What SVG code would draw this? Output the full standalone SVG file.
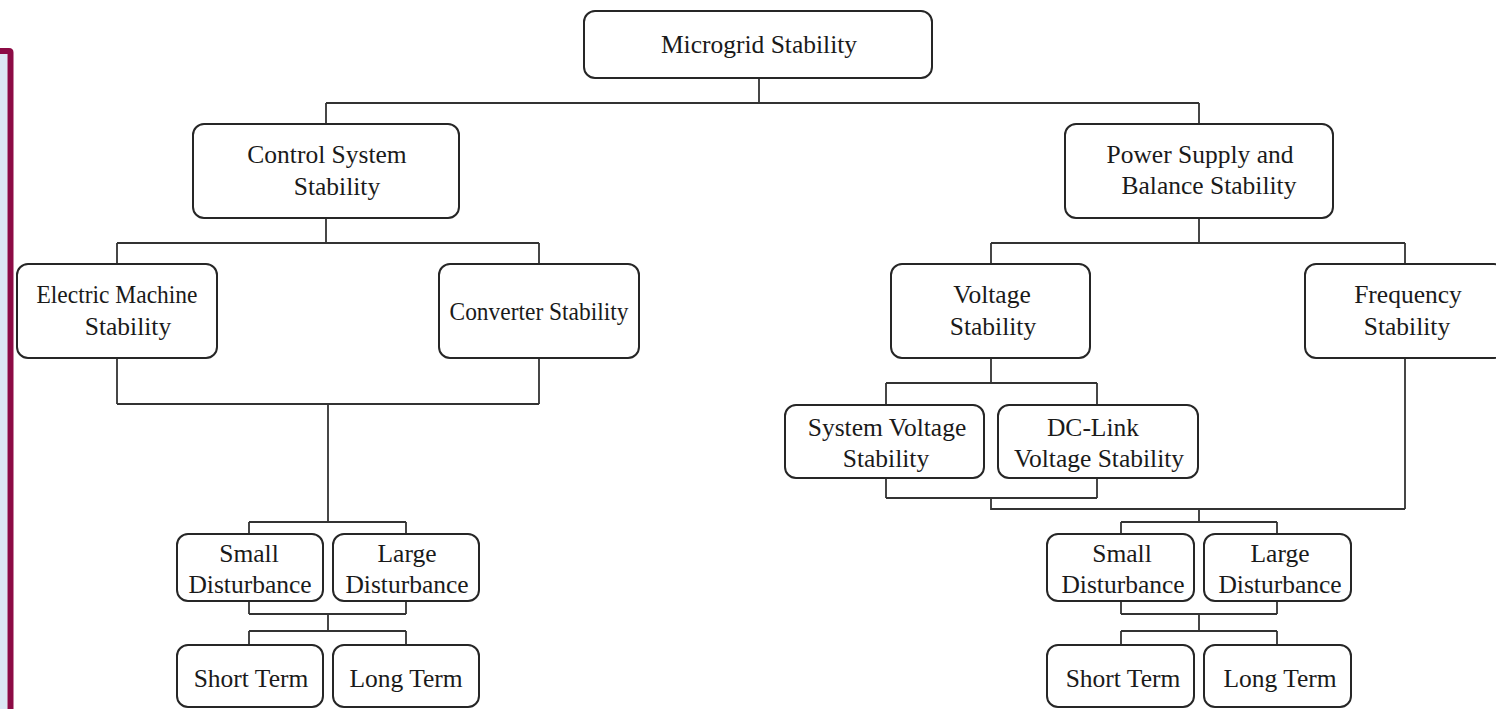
<svg xmlns="http://www.w3.org/2000/svg" width="1496" height="709" viewBox="0 0 1496 709">
<style>
.box{fill:#fff;stroke:#262626;stroke-width:2}
.t{font-family:"Liberation Serif","Times New Roman",serif;font-size:25.5px;fill:#1a1a1a;text-anchor:middle}
.c{fill:none;stroke:#333;stroke-width:1.8}
</style>
<rect x="0" y="0" width="1496" height="709" fill="#fff"/>
<g id="sidebar">
<rect x="0" y="54" width="7.5" height="655" fill="#dce7f4"/>
<path d="M0,48 H9 Q13.5,48 13.5,52.5 V709 H7.5 V54 H0 Z" fill="#8c0b45"/>
</g>
<g id="connectors">
<path class="c" d="M759,78 V103 M326,103 H1199 M326,103 V124 M1199,103 V124"/>
<path class="c" d="M326,218 V243 M117,243 H539 M117,243 V264 M539,243 V264"/>
<path class="c" d="M117,358 V404 M539,358 V404 M117,404 H539 M328,404 V522 M249,522 H406 M249,522 V534 M406,522 V534"/>
<path class="c" d="M249,601 V614 M406,601 V614 M249,614 H406 M328,614 V631 M249,631 H406 M249,631 V645 M406,631 V645"/>
<path class="c" d="M1199,218 V243 M991,243 H1405 M991,243 V264 M1405,243 V264"/>
<path class="c" d="M991,358 V383 M886,383 H1097 M886,383 V405 M1097,383 V405"/>
<path class="c" d="M886,478 V498 M1097,478 V498 M886,498 H1097 M991,498 V509 H1405 M1405,358 V509 M1199,509 V522 M1121,522 H1277 M1121,522 V534 M1277,522 V534"/>
<path class="c" d="M1121,601 V614 M1277,601 V614 M1121,614 H1277 M1199,614 V631 M1121,631 H1277 M1121,631 V645 M1277,631 V645"/>
</g>
<g id="microgrid"><rect class="box" x="584" y="11" width="348" height="67" rx="11"/><text class="t" x="759" y="53">Microgrid Stability</text></g>
<g id="control"><rect class="box" x="193" y="124" width="266" height="94" rx="11"/><text class="t" x="327" y="163">Control System</text><text class="t" x="337" y="195">Stability</text></g>
<g id="power"><rect class="box" x="1065" y="124" width="268" height="94" rx="11"/><text class="t" x="1200" y="163">Power Supply and</text><text class="t" x="1209" y="194">Balance Stability</text></g>
<g id="electric"><rect class="box" x="17" y="264" width="200" height="94" rx="11"/><text class="t" x="117" y="303" textLength="161" lengthAdjust="spacingAndGlyphs">Electric Machine</text><text class="t" x="128" y="335">Stability</text></g>
<g id="converter"><rect class="box" x="439" y="264" width="200" height="94" rx="11"/><text class="t" x="539" y="320" textLength="179" lengthAdjust="spacingAndGlyphs">Converter Stability</text></g>
<g id="voltage"><rect class="box" x="891" y="264" width="199" height="94" rx="11"/><text class="t" x="992" y="303">Voltage</text><text class="t" x="993" y="335">Stability</text></g>
<g id="frequency"><rect class="box" x="1305" y="264" width="200" height="94" rx="11"/><text class="t" x="1408" y="303">Frequency</text><text class="t" x="1407" y="335">Stability</text></g>
<g id="sysvolt"><rect class="box" x="785" y="405" width="199" height="73" rx="11"/><text class="t" x="887" y="436">System Voltage</text><text class="t" x="886" y="467">Stability</text></g>
<g id="dclink"><rect class="box" x="998" y="405" width="200" height="73" rx="11"/><text class="t" x="1093" y="436">DC-Link</text><text class="t" x="1099" y="467">Voltage Stability</text></g>
<g id="l-small"><rect class="box" x="177" y="534" width="146" height="67" rx="11"/><text class="t" x="249" y="562">Small</text><text class="t" x="250" y="593">Disturbance</text></g>
<g id="l-large"><rect class="box" x="333" y="534" width="146" height="67" rx="11"/><text class="t" x="407" y="562">Large</text><text class="t" x="407" y="593">Disturbance</text></g>
<g id="l-short"><rect class="box" x="177" y="645" width="146" height="62" rx="11"/><text class="t" x="251" y="687">Short Term</text></g>
<g id="l-long"><rect class="box" x="333" y="645" width="146" height="62" rx="11"/><text class="t" x="406" y="687">Long Term</text></g>
<g id="r-small"><rect class="box" x="1047" y="534" width="147" height="67" rx="11"/><text class="t" x="1122" y="562">Small</text><text class="t" x="1123" y="593">Disturbance</text></g>
<g id="r-large"><rect class="box" x="1204" y="534" width="147" height="67" rx="11"/><text class="t" x="1280" y="562">Large</text><text class="t" x="1280" y="593">Disturbance</text></g>
<g id="r-short"><rect class="box" x="1047" y="645" width="147" height="62" rx="11"/><text class="t" x="1123" y="687">Short Term</text></g>
<g id="r-long"><rect class="box" x="1204" y="645" width="147" height="62" rx="11"/><text class="t" x="1280" y="687">Long Term</text></g>
</svg>
